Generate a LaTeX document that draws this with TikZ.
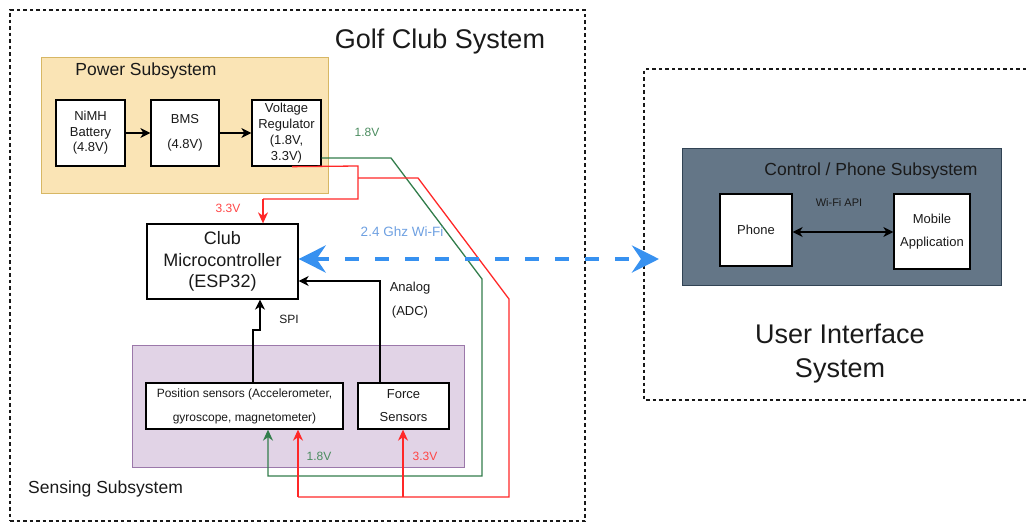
\documentclass[tikz,border=0pt]{standalone}
\usepackage{fontspec}
\setmainfont{Liberation Sans}
\usetikzlibrary{arrows.meta}
\definecolor{txt}{RGB}{26,26,26}
\definecolor{pfill}{RGB}{250,228,181}
\definecolor{pdraw}{RGB}{215,183,100}
\definecolor{sfill}{RGB}{225,211,230}
\definecolor{sdraw}{RGB}{155,120,170}
\definecolor{cfill}{RGB}{100,118,135}
\definecolor{cdraw}{RGB}{49,67,84}
\definecolor{wgreen}{RGB}{50,125,75}
\definecolor{wred}{RGB}{255,40,40}
\definecolor{wblue}{RGB}{55,145,240}
\definecolor{lblue}{RGB}{110,160,225}
\definecolor{lgreen}{RGB}{75,140,95}
\definecolor{lred}{RGB}{255,70,70}
\begin{document}
\begin{tikzpicture}[x=1pt,y=-1pt,
  outer/.style={draw=black!90, dash pattern=on 3.5pt off 3pt, line width=1.2pt},
  group/.style 2 args={draw=#1, fill=#2, line width=1pt, inner sep=0pt},
  box/.style 2 args={draw=black, line width=1.3pt, fill=white, minimum width=#1pt, minimum height=#2pt, inner sep=0pt, align=center, text=txt},
  fs/.style 2 args={font=\fontsize{#1}{#2}\selectfont},
  lbl/.style={inner sep=0pt, text=txt},
  wire/.style={line width=1.3pt},
  tip/.style={-{Stealth[length=10pt,width=10pt,inset=3pt]}},
  ctip/.style={-{Stealth[length=11pt,width=10pt,inset=3.5pt]}},
  wifi/.style={draw=wblue, line width=4.5pt, dash pattern=on 14pt off 16pt,
    {Stealth[length=27pt,width=27pt,inset=9pt]}-{Stealth[length=27pt,width=27pt,inset=9pt]}}
]
\useasboundingbox (0,0) rectangle (1026,525);
% containers
\node[outer, minimum width=575pt, minimum height=511pt, inner sep=0pt] (golf) at (297.5,265.5) {};
\draw[outer] (1026,69) -- (644,69) -- (644,400) -- (1026,400);
\node[group={pdraw}{pfill}, minimum width=287pt, minimum height=136pt] (power) at (184.5,125) {};
\node[group={sdraw}{sfill}, minimum width=332pt, minimum height=122pt] (sensing) at (298,406) {};
\node[group={cdraw}{cfill}, minimum width=319pt, minimum height=137pt] (ctrl) at (841.5,216.5) {};
% titles
\node[lbl, fs={27}{32}] (golft) at (440,42) {Golf Club System};
\node[lbl, fs={17.5}{20}] (powert) at (146,71) {Power Subsystem};
\node[lbl, fs={17.5}{20}, anchor=west] (senst) at (28,489) {Sensing Subsystem};
\node[lbl, fs={17.5}{20}] (ctrlt) at (871,171) {Control / Phone Subsystem};
\node[lbl, fs={27}{34}, align=center] (uit) at (840,354) {User Interface\\System};
% boxes
\node[box={69}{66}, fs={13}{15.5}] (batt) at (90.5,133) {NiMH\\Battery\\(4.8V)};
\node[box={68}{66}, fs={13}{25}] (bms) at (185,133) {BMS\\(4.8V)};
\node[box={69}{66}, fs={13}{16}] (vr) at (286.5,133) {Voltage\\Regulator\\(1.8V,\\3.3V)};
\node[box={151}{75}, fs={18}{21.5}] (mcu) at (222.5,261.5) {Club\\Microcontroller\\(ESP32)};
\node[box={197}{46}, fs={12}{24}] (pos) at (244.5,406) {Position sensors (Accelerometer,\\gyroscope, magnetometer)};
\node[box={91}{46}, fs={13}{23}] (force) at (403.5,406) {Force\\Sensors};
\node[box={72}{72}, fs={13}{16}] (phone) at (756,230) {Phone};
\node[box={76}{75}, fs={13}{23}] (app) at (932,231.5) {Mobile\\Application};
% power chain
\draw[wire, tip] (batt) -- (bms);
\draw[wire, tip] (bms) -- (vr);
% supply wires
\draw[wire, draw=wgreen, ctip] (vr.east |- 0,158) -- (391,158) -- (482,279) -- (482,476) -- (268,476) -- (268,476 |- pos.south);
\draw[wire, draw=wred] (vr.south -| 292,0) -- (358,166) -- (358,199) -- (263,199);
\draw[wire, draw=wred, ctip] (263,199) -- (263,199 |- mcu.north);
\draw[wire, draw=wred] (358,178) -- (418,178) -- (509,299) -- (509,497) -- (298,497);
\draw[wire, draw=wred, ctip] (298,497) -- (298,497 |- pos.south);
\draw[wire, draw=wred, ctip] (403,497) -- (403,497 |- force.south);
% signal wires
\draw[wire, tip] (380,380 |- force.north) -- (380,281) -- (380,281 -| mcu.east);
\draw[wire, tip] (253,380 |- pos.north) -- (253,330) -- (260,330) -- (260,330 |- mcu.south);
\draw[wire, {Stealth[length=10pt,width=10pt,inset=3pt]}-{Stealth[length=10pt,width=10pt,inset=3pt]}] (phone.east |- 0,232) -- (app.west |- 0,232);
% wifi
\coordinate (uiw) at (659,259);
\draw[wifi] (mcu.east |- 0,259) -- (uiw);
% wire labels
\node[lbl, fs={12}{14}, text=lgreen] (l18a) at (367,132) {1.8V};
\node[lbl, fs={12}{14}, text=lred] (l33a) at (228,208) {3.3V};
\node[lbl, fs={13.5}{16}, text=lblue] (lwifi) at (402,232) {2.4 Ghz Wi-Fi};
\node[lbl, fs={13}{24}, align=center] (ladc) at (410,300) {Analog\\(ADC)};
\node[lbl, fs={12}{14}] (lspi) at (289,319) {SPI};
\node[lbl, fs={12}{14}, text=lgreen] (l18b) at (319,456) {1.8V};
\node[lbl, fs={12}{14}, text=lred] (l33b) at (425,456) {3.3V};
\node[lbl, fs={11}{13}] (lapi) at (839,203) {Wi-Fi API};
\end{tikzpicture}
\end{document}
